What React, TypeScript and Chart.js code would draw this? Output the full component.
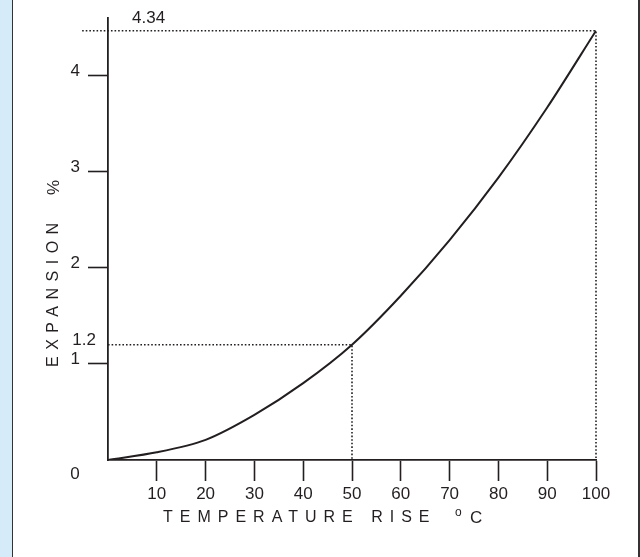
import React, { useEffect, useRef } from "react";
import { Chart, registerables } from "chart.js";

Chart.register(...registerables);

// ---- data ----
const temperatureRise = [0, 10, 20, 30, 40, 50, 60, 70, 80, 90, 100];
const expansion = [0, 0.08, 0.21, 0.47, 0.8, 1.2, 1.71, 2.29, 2.94, 3.67, 4.47];
const xTickValues = [10, 20, 30, 40, 50, 60, 70, 80, 90, 100];
const yTickValues = [1, 2, 3, 4];
const markedTemperature = 50;
const markedExpansion = 1.2;
const markedLabel = "1.2";
const endTemperature = 100;
const endExpansion = 4.47;
const endLabel = "4.34";
const endLineStart = -5.3;
const zeroLabel = "0";
const xTitle = "TEMPERATURE RISE";
const xUnit = "C";
const yTitle = "EXPANSION";
const yUnit = "%";

const INK = "#231f20";
const FONT = "'Liberation Sans', Arial, Helvetica, sans-serif";

const labelsPlugin = {
  id: "extraLabels",
  afterDraw(chart: any) {
    const ctx = chart.ctx as CanvasRenderingContext2D;
    const xs = chart.scales.x;
    const ys = chart.scales.y;
    const left = chart.chartArea.left;
    const bottom = chart.chartArea.bottom;
    ctx.save();
    ctx.fillStyle = INK;
    ctx.font = `17px ${FONT}`;
    ctx.textBaseline = "middle";

    ctx.textAlign = "center";
    ctx.fillText(zeroLabel, xs.getPixelForValue(0) - 33, ys.getPixelForValue(0) + 14);

    ctx.textAlign = "right";
    ctx.fillText(markedLabel, left - 12, ys.getPixelForValue(markedExpansion) - 4);

    ctx.textAlign = "left";
    ctx.fillText(endLabel, left + 24, ys.getPixelForValue(endExpansion) - 12);

    // x title
    ctx.font = `16px ${FONT}`;
    (ctx as any).letterSpacing = "7px";
    const ty = bottom + 58;
    ctx.fillText(xTitle, left + 55, ty);
    (ctx as any).letterSpacing = "0px";
    ctx.font = `12px ${FONT}`;
    ctx.fillText("o", left + 347, ty - 5);
    ctx.font = `17px ${FONT}`;
    ctx.fillText(xUnit, left + 362, ty);

    // y title
    ctx.font = `16px ${FONT}`;
    ctx.translate(54, 367);
    ctx.rotate(-Math.PI / 2);
    (ctx as any).letterSpacing = "6.5px";
    ctx.fillText(yTitle, 0, 0);
    (ctx as any).letterSpacing = "0px";
    ctx.font = `17px ${FONT}`;
    ctx.fillText(yUnit, 172, 0);
    ctx.restore();
  },
};

export default function App() {
  const ref = useRef<HTMLCanvasElement | null>(null);

  useEffect(() => {
    if (!ref.current) return;
    document.body.style.margin = "0";
    const dotted = {
      borderColor: INK,
      borderWidth: 1.6,
      borderDash: [1.6, 2],
      pointRadius: 0,
      tension: 0,
      fill: false,
    };
    const chart = new Chart(ref.current, {
      type: "line",
      data: {
        datasets: [
          {
            data: temperatureRise.map((x, i) => ({ x, y: expansion[i] })),
            borderColor: INK,
            borderWidth: 2,
            pointRadius: 0,
            tension: 0.3,
            fill: false,
          },
          {
            ...dotted,
            data: [
              { x: 0, y: markedExpansion },
              { x: markedTemperature, y: markedExpansion },
              { x: markedTemperature, y: 0 },
            ],
          },
          {
            ...dotted,
            clip: false,
            data: [
              { x: endLineStart, y: endExpansion },
              { x: endTemperature, y: endExpansion },
              { x: endTemperature, y: 0 },
            ],
          },
        ] as any,
      },
      options: {
        animation: false,
        responsive: false,
        devicePixelRatio: 1,
        layout: { padding: { left: 0, right: 44, top: 18, bottom: 0 } },
        plugins: { legend: { display: false }, tooltip: { enabled: false } },
        scales: {
          x: {
            type: "linear",
            min: 0,
            max: 100,
            afterBuildTicks: (s: any) => {
              s.ticks = xTickValues.map((v) => ({ value: v }));
            },
            afterFit: (s: any) => {
              s.height = 97;
            },
            grid: {
              drawOnChartArea: false,
              drawTicks: true,
              tickLength: 21,
              tickColor: INK,
              tickWidth: 1.6,
            },
            border: { display: true, color: INK, width: 1.8 },
            ticks: {
              color: INK,
              font: { size: 17, family: FONT },
              padding: 3,
              maxRotation: 0,
              autoSkip: false,
            },
          },
          y: {
            type: "linear",
            min: 0,
            max: 4.6,
            afterBuildTicks: (s: any) => {
              s.ticks = yTickValues.map((v) => ({ value: v }));
            },
            afterFit: (s: any) => {
              s.width = 108;
            },
            grid: {
              drawOnChartArea: false,
              drawTicks: true,
              tickLength: 20,
              tickColor: INK,
              tickWidth: 1.6,
            },
            border: { display: true, color: INK, width: 1.8 },
            ticks: {
              color: INK,
              font: { size: 17, family: FONT },
              padding: 8,
              labelOffset: -5,
              autoSkip: false,
            },
          },
        },
      },
      plugins: [labelsPlugin],
    });
    return () => chart.destroy();
  }, []);

  return (
    <div
      style={{
        position: "absolute",
        left: 0,
        top: 0,
        width: 640,
        height: 557,
        background: "#ffffff",
        overflow: "hidden",
      }}
    >
      <div
        style={{
          position: "absolute",
          left: 0,
          top: 0,
          width: 12,
          height: 557,
          background: "#d5ebf9",
          borderRight: "1.5px solid #333333",
        }}
      />
      <div
        style={{
          position: "absolute",
          left: 638,
          top: 0,
          width: 1.5,
          height: 557,
          background: "#333333",
        }}
      />
      <canvas
        ref={ref}
        width={640}
        height={557}
        style={{ position: "absolute", left: 0, top: 0, width: 640, height: 557 }}
      />
    </div>
  );
}
